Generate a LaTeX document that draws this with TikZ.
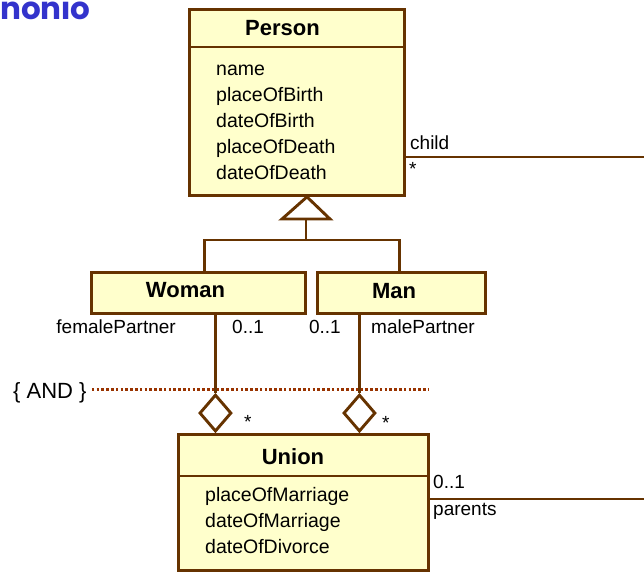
\documentclass[tikz,border=0pt]{standalone}
\usepackage{fontspec}
\setmainfont{Liberation Sans}
\newfontfamily\titlefont{Poppins}
\usetikzlibrary{shapes.geometric,positioning}

\definecolor{umlline}{HTML}{663300}
\definecolor{umlfill}{HTML}{FFFFCC}
\definecolor{andline}{HTML}{993300}
\definecolor{slideblue}{HTML}{3333CC}

\begin{document}
\begin{tikzpicture}[
  x=1pt, y=-1pt,
  cls/.style={draw=umlline,fill=umlfill,line width=2.9pt,inner sep=0pt},
  ttl/.style={font=\fontsize{22}{26}\selectfont\bfseries,inner sep=0pt},
  attr/.style={font=\fontsize{19.5}{26}\selectfont,align=left,inner sep=0pt},
  lbl/.style={font=\fontsize{19}{22}\selectfont,inner sep=0pt},
  link/.style={draw=umlline,line width=2.9pt},
  agg/.style={diamond,draw=umlline,fill=white,line width=2.9pt,inner sep=0pt,minimum width=32pt,minimum height=37pt},
  constraint/.style={draw=andline,line width=3pt,dash pattern=on 2.6pt off 2.2pt}
]
\useasboundingbox (0,0) rectangle (644,571);

% slide title
\node[anchor=base west,inner sep=0pt,text=slideblue,font=\titlefont\fontsize{31}{34}\selectfont\bfseries] (slidettl) at (0,19) {nonio};

% classes
\node[cls,minimum width=215pt,minimum height=186pt,anchor=north west] (person) at (188,8) {};
\draw[link] (188,47) -- (403,47);
\node[ttl,anchor=base] (personttl) at (282.5,35) {Person};
\node[attr,anchor=north west] (personattr) at (216,56.8) {\strut name\\placeOfBirth\\dateOfBirth\\placeOfDeath\\dateOfDeath};

\node[cls,minimum width=214pt,minimum height=41pt,anchor=north west] (woman) at (90,271) {};
\node[ttl,anchor=base] (womanttl) at (185.5,297) {Woman};
\node[cls,minimum width=168pt,minimum height=41pt,anchor=north west] (man) at (316,271) {};
\node[ttl,anchor=base] (manttl) at (394,298) {Man};

\node[cls,minimum width=250pt,minimum height=136pt,anchor=north west] (union) at (177,433) {};
\draw[link] (177,476) -- (427,476);
\node[ttl,anchor=base] (unionttl) at (293,464) {Union};
\node[attr,anchor=north west] (unionattr) at (205,482.8) {\strut placeOfMarriage\\dateOfMarriage\\dateOfDivorce};

% generalization
\coordinate (genbase) at (306,219);
\coordinate (genjoin) at (306,240);
\draw[link,fill=white] ([xshift=10pt]person.south) -- ([xshift=-24pt]genbase) -- ([xshift=24pt]genbase) -- cycle;
\draw[link] (genbase) -- (genjoin);
\draw[link] ([xshift=6pt]woman.north) |- (genjoin) -| ([xshift=-2pt]man.north);

% aggregations
\node[agg,anchor=south] (wdia) at ([xshift=-88pt]union.north) {};
\node[agg,anchor=south] (mdia) at ([xshift=56pt]union.north) {};
\draw[link] (woman.south -| wdia.north) -- (wdia.north);
\draw[link] (man.south -| mdia.north) -- (mdia.north);
\node[lbl,anchor=base east] (fpartner) at (176,333) {femalePartner};
\node[lbl,anchor=base west] (wmult) at (232,333) {0..1};
\node[lbl,anchor=base east] (mmult) at (341,333) {0..1};
\node[lbl,anchor=base west] (mpartner) at (371,333) {malePartner};
\node[lbl,anchor=base west] (wstar) at (244,428) {*};
\node[lbl,anchor=base west] (mstar) at (382,429) {*};

% constraint
\node[anchor=base west,inner sep=0pt,font=\fontsize{22}{26}\selectfont] (and) at (13,398) {\{ AND \}};
\coordinate (andend) at (428,389);
\draw[constraint] ([xshift=5pt]and.east |- andend) -- (andend);

% associations leaving the picture
\coordinate (childend) at (644,157);
\draw[link] (person.east |- childend) -- (childend);
\node[lbl,anchor=base west] (childlbl) at (410,149) {child};
\node[lbl,anchor=base west] (childmult) at (409,175) {*};

\coordinate (parentsend) at (644,499);
\draw[link] (union.east |- parentsend) -- (parentsend);
\node[lbl,anchor=base west] (parentsmult) at (433,488) {0..1};
\node[lbl,anchor=base west] (parentslbl) at (433,515) {parents};
\end{tikzpicture}
\end{document}
